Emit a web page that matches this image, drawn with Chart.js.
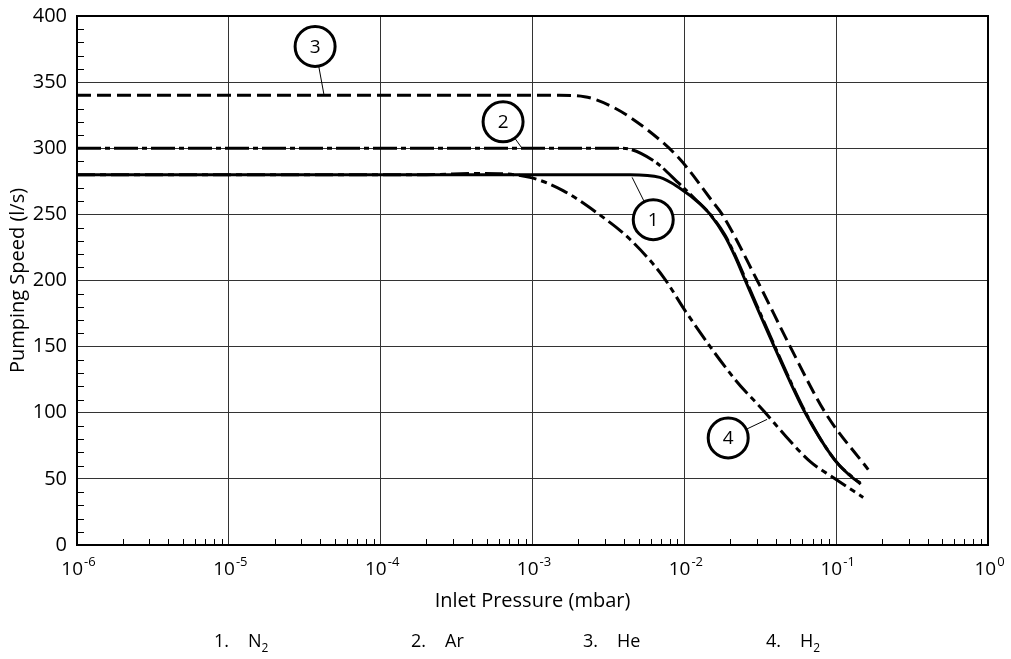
<!DOCTYPE html>
<html><head><meta charset="utf-8">
<script src="https://cdn.jsdelivr.net/npm/chart.js@4.4.0/dist/chart.umd.min.js"></script>
<style>
html,body{margin:0;padding:0;background:#fff;}
#wrap{position:relative;width:1011px;height:659px;}
canvas{position:absolute;left:0;top:0;}
.leg{position:absolute;top:629px;font-family:"Open Sans","Noto Sans",sans-serif;font-size:18px;color:#000;white-space:pre;line-height:22px;}
.leg sub{font-size:12px;vertical-align:-5px;line-height:0;}
</style></head>
<body><div id="wrap"><canvas id="c" width="1011" height="659"></canvas></div>
<script>
// ---- data (pressure in mbar, speed in l/s) ----
const n2P = [1e-6, 1e-3, 0.0044, 0.0069, 0.0093, 0.0127, 0.0148, 0.0186, 0.0216, 0.0252, 0.0391, 0.0625, 0.0984, 0.131, 0.144];
const n2S = [280, 280, 280, 278, 270, 258, 250, 233, 218, 200, 150, 100, 64, 50, 47];
const arP = [1e-6, 1e-3, 0.0039, 0.0062, 0.0093, 0.0117, 0.0148, 0.0186, 0.0216, 0.0255, 0.0395, 0.0630, 0.0984, 0.145];
const arS = [300, 300, 300, 291, 273, 262, 250, 234, 219, 200, 150, 100, 64, 46];
const heP = [1e-6, 3.5e-5, 1e-3, 0.0015, 0.0022, 0.0034, 0.0057, 0.0093, 0.0155, 0.01775, 0.0302, 0.0498, 0.0848, 0.1626];
const heS = [340, 340, 340, 340, 339, 331, 314, 292, 259, 250, 200, 150, 100, 57];
const h2P = [1e-6, 2e-4, 4.5e-4, 9.6e-4, 0.00159, 0.00267, 0.0044, 0.00724, 0.01028, 0.02163, 0.0336, 0.0428, 0.0675, 0.0955, 0.1507];
const h2S = [280, 280, 281, 278, 268, 251, 231, 203, 176, 125, 101, 87, 63, 51, 36];
const xDecades = [-6, -5, -4, -3, -2, -1, 0];
const yTicks = [0, 50, 100, 150, 200, 250, 300, 350, 400];
const gasNum = ['1.', '2.', '3.', '4.'];
const gasName = ['N', 'Ar', 'He', 'H'];
const gasSub = ['2', '', '', '2'];
// curve callouts: number, circle centre (p, S), leader end (p, S)
const calloutNum = ['3', '2', '1', '4'];
const calloutP = [3.7e-5, 6.4e-4, 6.24e-3, 0.01945];
const calloutS = [377, 320, 246, 81];
const leaderP = [4.24e-5, 8.53e-4, 4.53e-3, 0.0351];
const leaderS = [340, 300, 278, 95];

const FONT = '"Open Sans","DejaVu Sans",sans-serif';
function pts(P, S){ return P.map((p,i)=>({x:p, y:S[i]})); }

// legend as HTML text
const legX = [214, 411, 583, 766];
const wrap = document.getElementById('wrap');
gasNum.forEach((n,i)=>{
  const a = document.createElement('div');
  a.className = 'leg'; a.style.left = legX[i] + 'px'; a.textContent = n;
  wrap.appendChild(a);
  const b = document.createElement('div');
  b.className = 'leg'; b.style.left = (legX[i] + 34) + 'px';
  b.innerHTML = gasName[i] + (gasSub[i] ? '<sub>' + gasSub[i] + '</sub>' : '');
  wrap.appendChild(b);
});

const deco = {
  id: 'deco',
  beforeDatasetsDraw(chart){
    const {ctx, chartArea:a, scales:{x, y}} = chart;
    ctx.save();
    ctx.strokeStyle = '#000'; ctx.lineWidth = 1;
    ctx.beginPath();
    for (let v = 10; v < 400; v += 10) {
      if (v % 50 === 0) continue;
      const py = Math.round(y.getPixelForValue(v)) + 0.5;
      ctx.moveTo(a.left, py); ctx.lineTo(a.left + 7, py);
    }
    for (let e = -6; e < 0; e++) {
      for (let m = 2; m <= 9; m++) {
        const px = Math.round(x.getPixelForValue(m * Math.pow(10, e))) + 0.5;
        ctx.moveTo(px, a.bottom); ctx.lineTo(px, a.bottom - 6);
      }
    }
    ctx.stroke();
    ctx.lineWidth = 2;
    ctx.strokeRect(a.left, a.top, a.right - a.left, a.bottom - a.top);
    // x tick labels: 10 with superscript exponent
    ctx.fillStyle = '#000'; ctx.textBaseline = 'alphabetic'; ctx.textAlign = 'left';
    xDecades.forEach(e => {
      const px = x.getPixelForValue(Math.pow(10, e));
      ctx.font = '19px ' + FONT; const w1 = ctx.measureText('10').width;
      const ex = String(e);
      ctx.font = '13px ' + FONT; const w2 = ctx.measureText(ex).width;
      const x0 = px - (w1 + w2) / 2 + 1;
      ctx.font = '19px ' + FONT; ctx.fillText('10', x0, a.bottom + 30);
      ctx.font = '13px ' + FONT; ctx.fillText(ex, x0 + w1 + 1, a.bottom + 21);
    });
    ctx.restore();
  },
  afterDatasetsDraw(chart){
    const {ctx, scales:{x, y}} = chart;
    ctx.save();
    const r = 20;
    calloutNum.forEach((n,i)=>{
      const cx = x.getPixelForValue(calloutP[i]), cy = y.getPixelForValue(calloutS[i]);
      const ex = x.getPixelForValue(leaderP[i]), ey = y.getPixelForValue(leaderS[i]);
      const d = Math.hypot(ex-cx, ey-cy);
      ctx.strokeStyle = '#000'; ctx.lineWidth = 1;
      ctx.beginPath();
      ctx.moveTo(cx + (ex-cx)/d*r, cy + (ey-cy)/d*r); ctx.lineTo(ex, ey); ctx.stroke();
      ctx.beginPath(); ctx.arc(cx, cy, r, 0, Math.PI*2);
      ctx.fillStyle = '#fff'; ctx.fill();
      ctx.lineWidth = 3; ctx.stroke();
      ctx.fillStyle = '#000'; ctx.font = '19px ' + FONT;
      ctx.textAlign = 'center'; ctx.textBaseline = 'middle';
      ctx.fillText(n, cx, cy + 1);
    });
    ctx.restore();
  }
};

const common = {fill:false, pointRadius:0, borderColor:'#000', borderWidth:3, cubicInterpolationMode:'monotone', borderCapStyle:'butt'};
new Chart(document.getElementById('c'), {
  type: 'line',
  data: {
    datasets: [
      Object.assign({label:'N2', data: pts(n2P, n2S), borderDash: []}, common),
      Object.assign({label:'Ar', data: pts(arP, arS), borderDash: [24,4,5,4]}, common),
      Object.assign({label:'He', data: pts(heP, heS), borderDash: [14,6]}, common),
      Object.assign({label:'H2', data: pts(h2P, h2S), borderDash: [18,5,6,5]}, common)
    ]
  },
  options: {
    responsive: false, animation: false,
    layout: {padding: {top: 16, right: 23, left: 0, bottom: 0}},
    plugins: {legend: {display: false}, tooltip: {enabled: false}},
    scales: {
      x: {
        type: 'logarithmic', min: 1e-6, max: 1,
        afterBuildTicks: s => { s.ticks = xDecades.map(e => ({value: Math.pow(10, e)})); },
        afterFit: s => { s.height = 114; s.paddingLeft = 0; s.paddingRight = 0; },
        ticks: {display: false},
        grid: {color: '#333', lineWidth: 1, drawTicks: false},
        border: {display: false},
        title: {display: true, text: 'Inlet Pressure (mbar)', color: '#000', font: {family: FONT, size: 20}, padding: {top: 0, bottom: 46}}
      },
      y: {
        min: 0, max: 400,
        afterBuildTicks: s => { s.ticks = yTicks.map(v => ({value: v})); },
        afterFit: s => { s.width = 77; s.paddingTop = 0; s.paddingBottom = 0; },
        ticks: {padding: 10, color: '#000', font: {family: FONT, size: 20}},
        grid: {color: '#333', lineWidth: 1, drawTicks: false},
        border: {display: false},
        title: {display: true, text: 'Pumping Speed (l/s)', color: '#000', font: {family: FONT, size: 20}, padding: {top: 6, bottom: 0}}
      }
    }
  },
  plugins: [deco]
});
</script>
</body></html>
